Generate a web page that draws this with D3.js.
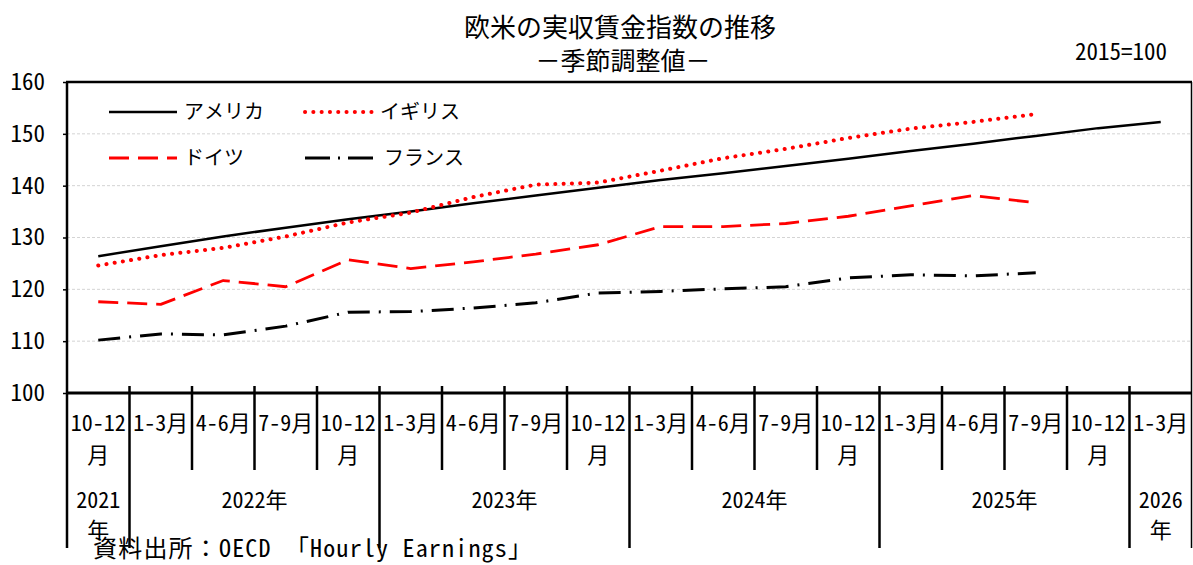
<!DOCTYPE html>
<html lang="ja">
<head>
<meta charset="UTF-8">
<title>欧米の実収賃金指数の推移</title>
<script src="https://d3js.org/d3.v7.min.js"></script>
<style>
  body { margin: 0; background: #fff; }
  text { font-family: "Noto Sans Mono CJK JP", "Noto Sans CJK JP", sans-serif; fill: #000; }
</style>
</head>
<body>
<div id="chart"></div>
<script>
// quarters along the x axis
const quarters = ["10-12月", "1-3月", "4-6月", "7-9月", "10-12月", "1-3月", "4-6月", "7-9月",
  "10-12月", "1-3月", "4-6月", "7-9月", "10-12月", "1-3月", "4-6月", "7-9月", "10-12月", "1-3月"];
const years = ["2021年", "2022年", "2023年", "2024年", "2025年", "2026年"];
const yearSpans = [1, 4, 4, 4, 4, 1];

// index values, 2015=100
const america = [126.4, 128.3, 130.2, 131.9, 133.5, 135.0, 136.6, 138.1, 139.6,
  141.1, 142.4, 143.8, 145.2, 146.7, 148.1, 149.6, 151.1, 152.3];
const uk = [124.6, 126.6, 128.0, 130.2, 132.9, 134.8, 137.8, 140.2, 140.6,
  142.9, 145.3, 147.1, 149.2, 151.0, 152.3, 153.8];
const germany = [117.6, 117.1, 121.7, 120.5, 125.7, 124.0, 125.3, 126.8, 128.6,
  132.1, 132.1, 132.7, 134.1, 136.1, 138.1, 136.7];
const france = [110.2, 111.4, 111.2, 112.9, 115.6, 115.7, 116.4, 117.4, 119.3,
  119.6, 120.1, 120.5, 122.2, 122.8, 122.6, 123.2];

const yTicks = [100, 110, 120, 130, 140, 150, 160];

const width = 1193, height = 565;
const margin = { top: 82, right: 1, bottom: 172, left: 67 };

const svg = d3.select("#chart").append("svg")
  .attr("width", width)
  .attr("height", height);

const x = d3.scaleBand()
  .domain(d3.range(quarters.length))
  .range([margin.left, width - margin.right])
  .padding(0);

const y = d3.scaleLinear()
  .domain([100, 160])
  .range([height - margin.bottom, margin.top]);

const bottom = height - margin.bottom;
const left = margin.left, right = width - margin.right;

// grid lines
svg.append("g")
  .selectAll("line")
  .data(yTicks.filter(d => d > 100 && d < 160))
  .join("line")
  .attr("x1", left).attr("x2", right)
  .attr("y1", d => y(d)).attr("y2", d => y(d))
  .attr("stroke", "#d4d4d4")
  .attr("stroke-width", 1)
  .attr("stroke-dasharray", "3 2");

// y axis
const yAxis = svg.append("g")
  .attr("transform", `translate(${left},0)`)
  .call(d3.axisLeft(y).tickValues(yTicks).tickSize(4).tickPadding(18));
yAxis.select(".domain").remove();
yAxis.selectAll(".tick line").attr("stroke", "#000").attr("stroke-width", 1.5);
yAxis.selectAll(".tick text")
  .attr("font-family", "\"Noto Sans Mono CJK JP\", \"Noto Sans CJK JP\", sans-serif")
  .attr("font-size", 23)
  .attr("fill", "#000");

// frame
svg.append("line").attr("x1", left - 1).attr("x2", right).attr("y1", margin.top).attr("y2", margin.top)
  .attr("stroke", "#000").attr("stroke-width", 2.5);
svg.append("line").attr("x1", left).attr("x2", left).attr("y1", margin.top).attr("y2", 548)
  .attr("stroke", "#000").attr("stroke-width", 2.5);
svg.append("line").attr("x1", right - 0.5).attr("x2", right - 0.5).attr("y1", margin.top).attr("y2", 548)
  .attr("stroke", "#000").attr("stroke-width", 1.5);
svg.append("line").attr("x1", left).attr("x2", right).attr("y1", bottom).attr("y2", bottom)
  .attr("stroke", "#000").attr("stroke-width", 3);

// category boundaries
const yearStarts = [];
yearSpans.reduce((acc, n) => { yearStarts.push(acc); return acc + n; }, 0);
const boundaries = d3.range(1, quarters.length);
svg.append("g")
  .selectAll("line")
  .data(boundaries)
  .join("line")
  .attr("x1", d => x(d)).attr("x2", d => x(d))
  .attr("y1", bottom - 7)
  .attr("y2", d => yearStarts.includes(d) ? 548 : 470)
  .attr("stroke", "#000")
  .attr("stroke-width", 2.5);

// quarter labels
const ql = svg.append("g")
  .selectAll("text")
  .data(quarters)
  .join("text")
  .attr("x", (d, i) => x(i) + x.bandwidth() / 2)
  .attr("text-anchor", "middle")
  .attr("font-size", 22);
ql.each(function (d) {
  const t = d3.select(this);
  if (d.length > 4) {
    t.append("tspan").attr("x", t.attr("x")).attr("y", 431).text(d.slice(0, -1));
    t.append("tspan").attr("x", t.attr("x")).attr("y", 463).text("月");
  } else {
    t.append("tspan").attr("x", t.attr("x")).attr("y", 431).text(d);
  }
});

// year labels
svg.append("g")
  .selectAll("text")
  .data(years)
  .join("text")
  .attr("text-anchor", "middle")
  .attr("font-size", 22)
  .each(function (d, i) {
    const t = d3.select(this);
    const cx = x(yearStarts[i]) + yearSpans[i] * x.bandwidth() / 2;
    if (yearSpans[i] === 1) {
      t.append("tspan").attr("x", cx).attr("y", 508).text(d.slice(0, -1));
      t.append("tspan").attr("x", cx).attr("y", 538).text("年");
    } else {
      t.append("tspan").attr("x", cx).attr("y", 508).text(d);
    }
  });

// series
const series = [
  { name: "アメリカ", values: america, color: "#000", width: 2.5, dash: null, cap: "butt" },
  { name: "イギリス", values: uk, color: "#ff0000", width: 4, dash: "0.1 8.2", cap: "round" },
  { name: "ドイツ", values: germany, color: "#ff0000", width: 2.8, dash: "20 9", cap: "butt" },
  { name: "フランス", values: france, color: "#000", width: 3, dash: "22 9 2 9", cap: "butt" }
];

const line = d3.line()
  .x((d, i) => x(i) + x.bandwidth() / 2)
  .y(d => y(d));

svg.append("g")
  .selectAll("path")
  .data(series)
  .join("path")
  .attr("d", d => line(d.values))
  .attr("fill", "none")
  .attr("stroke", d => d.color)
  .attr("stroke-width", d => d.width)
  .attr("stroke-dasharray", d => d.dash)
  .attr("stroke-linecap", d => d.cap)
  .attr("stroke-linejoin", "round");

// legend
const legendPos = [[109, 112], [305, 112], [109, 158], [305, 158]];
const lg = svg.append("g")
  .selectAll("g")
  .data(series)
  .join("g")
  .attr("transform", (d, i) => `translate(${legendPos[i][0]},${legendPos[i][1]})`);
lg.append("line")
  .attr("x1", 0).attr("x2", 68)
  .attr("stroke", d => d.color)
  .attr("stroke-width", d => d.width)
  .attr("stroke-dasharray", (d, i) => i === 3 ? "25 8 2 8 25" : d.dash)
  .attr("stroke-linecap", d => d.cap);
lg.append("text")
  .attr("x", (d, i) => i === 3 ? 79 : 75)
  .attr("y", 7)
  .attr("font-size", 20)
  .text(d => d.name);

// titles
svg.append("text")
  .attr("x", 620).attr("y", 37)
  .attr("text-anchor", "middle")
  .attr("font-size", 26)
  .text("欧米の実収賃金指数の推移");
svg.append("text")
  .attr("x", 623).attr("y", 70)
  .attr("text-anchor", "middle")
  .attr("font-size", 25)
  .text("－季節調整値－");
svg.append("text")
  .attr("x", 1167).attr("y", 60)
  .attr("text-anchor", "end")
  .attr("font-size", 23)
  .text("2015=100");

// source
svg.append("text")
  .attr("x", 93).attr("y", 557)
  .attr("font-size", 24)
  .attr("textLength", 439)
  .attr("lengthAdjust", "spacing")
  .text("資料出所：OECD 「Hourly Earnings」");
</script>
</body>
</html>
